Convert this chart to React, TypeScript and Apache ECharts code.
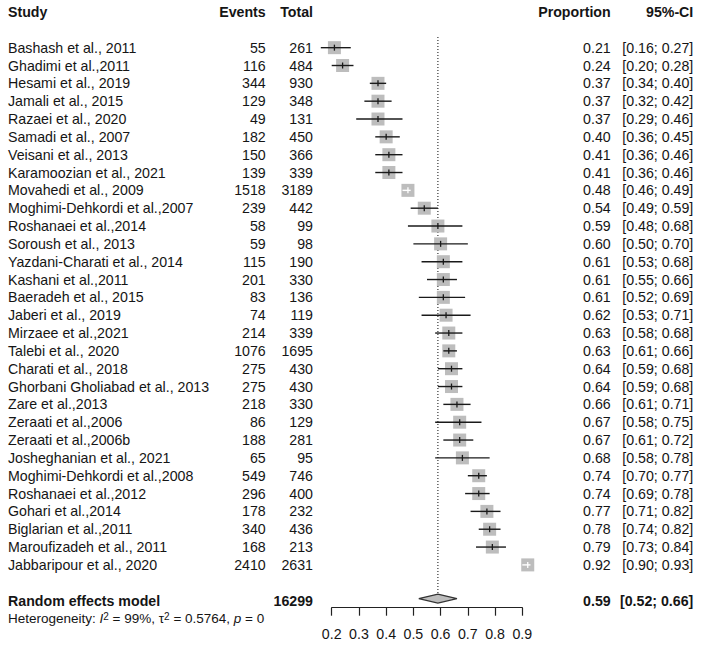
import React, { useEffect, useRef } from "react";
import * as echarts from "echarts";

const studies = [
  "Bashash et al., 2011",
  "Ghadimi et al.,2011",
  "Hesami et al., 2019",
  "Jamali et al., 2015",
  "Razaei et al., 2020",
  "Samadi et al., 2007",
  "Veisani et al., 2013",
  "Karamoozian et al., 2021",
  "Movahedi et al., 2009",
  "Moghimi-Dehkordi et al.,2007",
  "Roshanaei et al.,2014",
  "Soroush et al., 2013",
  "Yazdani-Charati et al., 2014",
  "Kashani et al.,2011",
  "Baeradeh et al., 2015",
  "Jaberi et al., 2019",
  "Mirzaee et al.,2021",
  "Talebi et al., 2020",
  "Charati et al., 2018",
  "Ghorbani Gholiabad et al., 2013",
  "Zare et al.,2013",
  "Zeraati et al.,2006",
  "Zeraati et al.,2006b",
  "Josheghanian et al., 2021",
  "Moghimi-Dehkordi et al.,2008",
  "Roshanaei et al.,2012",
  "Gohari et al.,2014",
  "Biglarian et al.,2011",
  "Maroufizadeh et al., 2011",
  "Jabbaripour et al., 2020",
];
const events = [55, 116, 344, 129, 49, 182, 150, 139, 1518, 239, 58, 59, 115, 201, 83, 74, 214, 1076, 275, 275, 218, 86, 188, 65, 549, 296, 178, 340, 168, 2410];
const totals = [261, 484, 930, 348, 131, 450, 366, 339, 3189, 442, 99, 98, 190, 330, 136, 119, 339, 1695, 430, 430, 330, 129, 281, 95, 746, 400, 232, 436, 213, 2631];
const proportions = [0.21, 0.24, 0.37, 0.37, 0.37, 0.40, 0.41, 0.41, 0.48, 0.54, 0.59, 0.60, 0.61, 0.61, 0.61, 0.62, 0.63, 0.63, 0.64, 0.64, 0.66, 0.67, 0.67, 0.68, 0.74, 0.74, 0.77, 0.78, 0.79, 0.92];
const ciLower = [0.16, 0.20, 0.34, 0.32, 0.29, 0.36, 0.36, 0.36, 0.46, 0.49, 0.48, 0.50, 0.53, 0.55, 0.52, 0.53, 0.58, 0.61, 0.59, 0.59, 0.61, 0.58, 0.61, 0.58, 0.70, 0.69, 0.71, 0.74, 0.73, 0.90];
const ciUpper = [0.27, 0.28, 0.40, 0.42, 0.46, 0.45, 0.46, 0.46, 0.49, 0.59, 0.68, 0.70, 0.68, 0.66, 0.69, 0.71, 0.68, 0.66, 0.68, 0.68, 0.71, 0.75, 0.72, 0.78, 0.77, 0.78, 0.82, 0.82, 0.84, 0.93];

const pooledEst = 0.59;
const pooledLower = 0.52;
const pooledUpper = 0.66;
const pooledTotal = 16299;
const heterogeneityI2 = "99%";
const heterogeneityTau2 = "0.5764";
const heterogeneityP = "0";

const xTickMin = 0.2;
const xTickMax = 0.9;
const xTickStep = 0.1;

const headers = ["Study", "Events", "Total", "Proportion", "95%-CI"];

const FONT = "'Liberation Sans', Arial, Helvetica, sans-serif";
const FS = 14.2;
const TXT = "#151515";
const SQ = 13;
const COL_STUDY = 8;
const COL_EVENTS = 265.7;
const COL_TOTAL = 313;
const COL_PROP = 610.7;
const COL_CI = 693.3;
const ROW_HEADER = -2;
const ROW_POOLED = 31;
const ROW_HET = 32;

const fmt2 = (v: number) => v.toFixed(2);
const ciText = (lo: number, hi: number) => `[${fmt2(lo)}; ${fmt2(hi)}]`;

function txt(text: string, x: number, y: number, align: string, bold = false, size = FS) {
  return {
    type: "text",
    x,
    y,
    style: {
      text,
      align,
      verticalAlign: "middle",
      fontFamily: FONT,
      fontSize: size,
      fontWeight: bold ? "bold" : "normal",
      fill: TXT,
    },
  };
}

export default function App() {
  const ref = useRef<HTMLDivElement>(null);

  useEffect(() => {
    if (!ref.current) return;
    const chart = echarts.init(ref.current, undefined, { renderer: "svg" });

    const forestData = proportions.map((p, i) => [p, ciLower[i], ciUpper[i], i]);
    const tableData = studies.map((_, i) => [xTickMin, i]);

    const option: any = {
      animation: false,
      backgroundColor: "#ffffff",
      grid: { left: 331.7, right: 182.7, top: 1.3, bottom: 39.3, containLabel: false },
      xAxis: {
        type: "value",
        min: xTickMin,
        max: xTickMax,
        interval: xTickStep,
        axisLine: { show: true, onZero: false, lineStyle: { color: "#222", width: 1.2 } },
        axisTick: { show: true, length: 8, lineStyle: { color: "#222", width: 1.2 } },
        axisLabel: {
          show: true,
          margin: 19,
          fontFamily: FONT,
          fontSize: FS,
          color: TXT,
          formatter: (v: number) => v.toFixed(1),
        },
        splitLine: { show: false },
      },
      yAxis: {
        type: "value",
        min: -2.6,
        max: 31.4,
        inverse: true,
        show: false,
        splitLine: { show: false },
      },
      series: [
        {
          type: "custom",
          name: "studies",
          clip: false,
          data: forestData,
          encode: { x: [0, 1, 2], y: 3 },
          renderItem: (params: any, api: any) => {
            const est = api.value(0);
            const lo = api.value(1);
            const hi = api.value(2);
            const row = api.value(3);
            const c = api.coord([est, row]);
            const xl = api.coord([lo, row])[0];
            const xh = api.coord([hi, row])[0];
            const inside = xh - xl < SQ;
            const stroke = inside ? "#ffffff" : "#1a1a1a";
            return {
              type: "group",
              children: [
                {
                  type: "rect",
                  shape: { x: c[0] - SQ / 2, y: c[1] - SQ / 2, width: SQ, height: SQ },
                  style: { fill: "#bdbdbd" },
                },
                {
                  type: "line",
                  shape: { x1: xl, y1: c[1], x2: xh, y2: c[1] },
                  style: { stroke, lineWidth: 1.4 },
                },
                {
                  type: "line",
                  shape: { x1: c[0], y1: c[1] - 3, x2: c[0], y2: c[1] + 3 },
                  style: { stroke, lineWidth: 1.3 },
                },
              ],
            };
          },
          z: 3,
        },
        {
          type: "custom",
          name: "table",
          clip: false,
          data: tableData,
          encode: { x: 0, y: 1 },
          renderItem: (params: any, api: any) => {
            const i = params.dataIndex;
            const y = api.coord([xTickMin, i])[1];
            return {
              type: "group",
              children: [
                txt(studies[i], COL_STUDY, y, "left"),
                txt(String(events[i]), COL_EVENTS, y, "right"),
                txt(String(totals[i]), COL_TOTAL, y, "right"),
                txt(fmt2(proportions[i]), COL_PROP, y, "right"),
                txt(ciText(ciLower[i], ciUpper[i]), COL_CI, y, "right"),
              ],
            };
          },
          z: 4,
        },
        {
          type: "custom",
          name: "summary",
          clip: false,
          data: [[pooledEst, ROW_POOLED]],
          encode: { x: 0, y: 1 },
          renderItem: (params: any, api: any) => {
            const yH = api.coord([xTickMin, ROW_HEADER])[1];
            const yP = api.coord([xTickMin, ROW_POOLED])[1];
            const yHet = api.coord([xTickMin, ROW_HET])[1];
            const yD = yP - 2;
            const cx = api.coord([pooledEst, ROW_POOLED])[0];
            const xl = api.coord([pooledLower, ROW_POOLED])[0];
            const xh = api.coord([pooledUpper, ROW_POOLED])[0];
            const yTop = api.coord([pooledEst, -0.6])[1];
            const hd = 4.5;
            return {
              type: "group",
              children: [
                {
                  type: "line",
                  shape: { x1: cx, y1: yTop, x2: cx, y2: yD - hd },
                  style: { stroke: "#333", lineWidth: 1.2, lineDash: [1, 2] },
                  z2: 1,
                },
                {
                  type: "polygon",
                  shape: { points: [[xl, yD], [cx, yD - hd], [xh, yD], [cx, yD + hd]] },
                  style: { fill: "#bdbdbd", stroke: "#333", lineWidth: 1.3 },
                  z2: 2,
                },
                txt(headers[0], COL_STUDY, yH, "left", true),
                txt(headers[1], COL_EVENTS, yH, "right", true),
                txt(headers[2], COL_TOTAL, yH, "right", true),
                txt(headers[3], COL_PROP, yH, "right", true),
                txt(headers[4], COL_CI, yH, "right", true),
                txt("Random effects model", COL_STUDY, yP, "left", true),
                txt(String(pooledTotal), COL_TOTAL, yP, "right", true),
                txt(fmt2(pooledEst), COL_PROP, yP, "right", true),
                txt(ciText(pooledLower, pooledUpper), COL_CI, yP, "right", true),
                {
                  type: "text",
                  x: COL_STUDY,
                  y: yHet,
                  style: {
                    text: `Heterogeneity: {i|I}{sup|2} = ${heterogeneityI2}, τ{sup|2} = ${heterogeneityTau2}, {i|p} = ${heterogeneityP}`,
                    align: "left",
                    verticalAlign: "middle",
                    fontFamily: FONT,
                    fontSize: 13.5,
                    fill: TXT,
                    rich: {
                      i: { fontStyle: "italic", fontFamily: FONT, fontSize: 13.5, fill: TXT },
                      sup: { fontSize: 10, fontFamily: FONT, fill: TXT, verticalAlign: "top" },
                    },
                  },
                },
              ],
            };
          },
          z: 2,
        },
      ],
    };

    chart.setOption(option);
    return () => chart.dispose();
  }, []);

  return (
    <div
      ref={ref}
      style={{ position: "fixed", left: 0, top: 0, width: 705, height: 647, background: "#fff" }}
    />
  );
}
